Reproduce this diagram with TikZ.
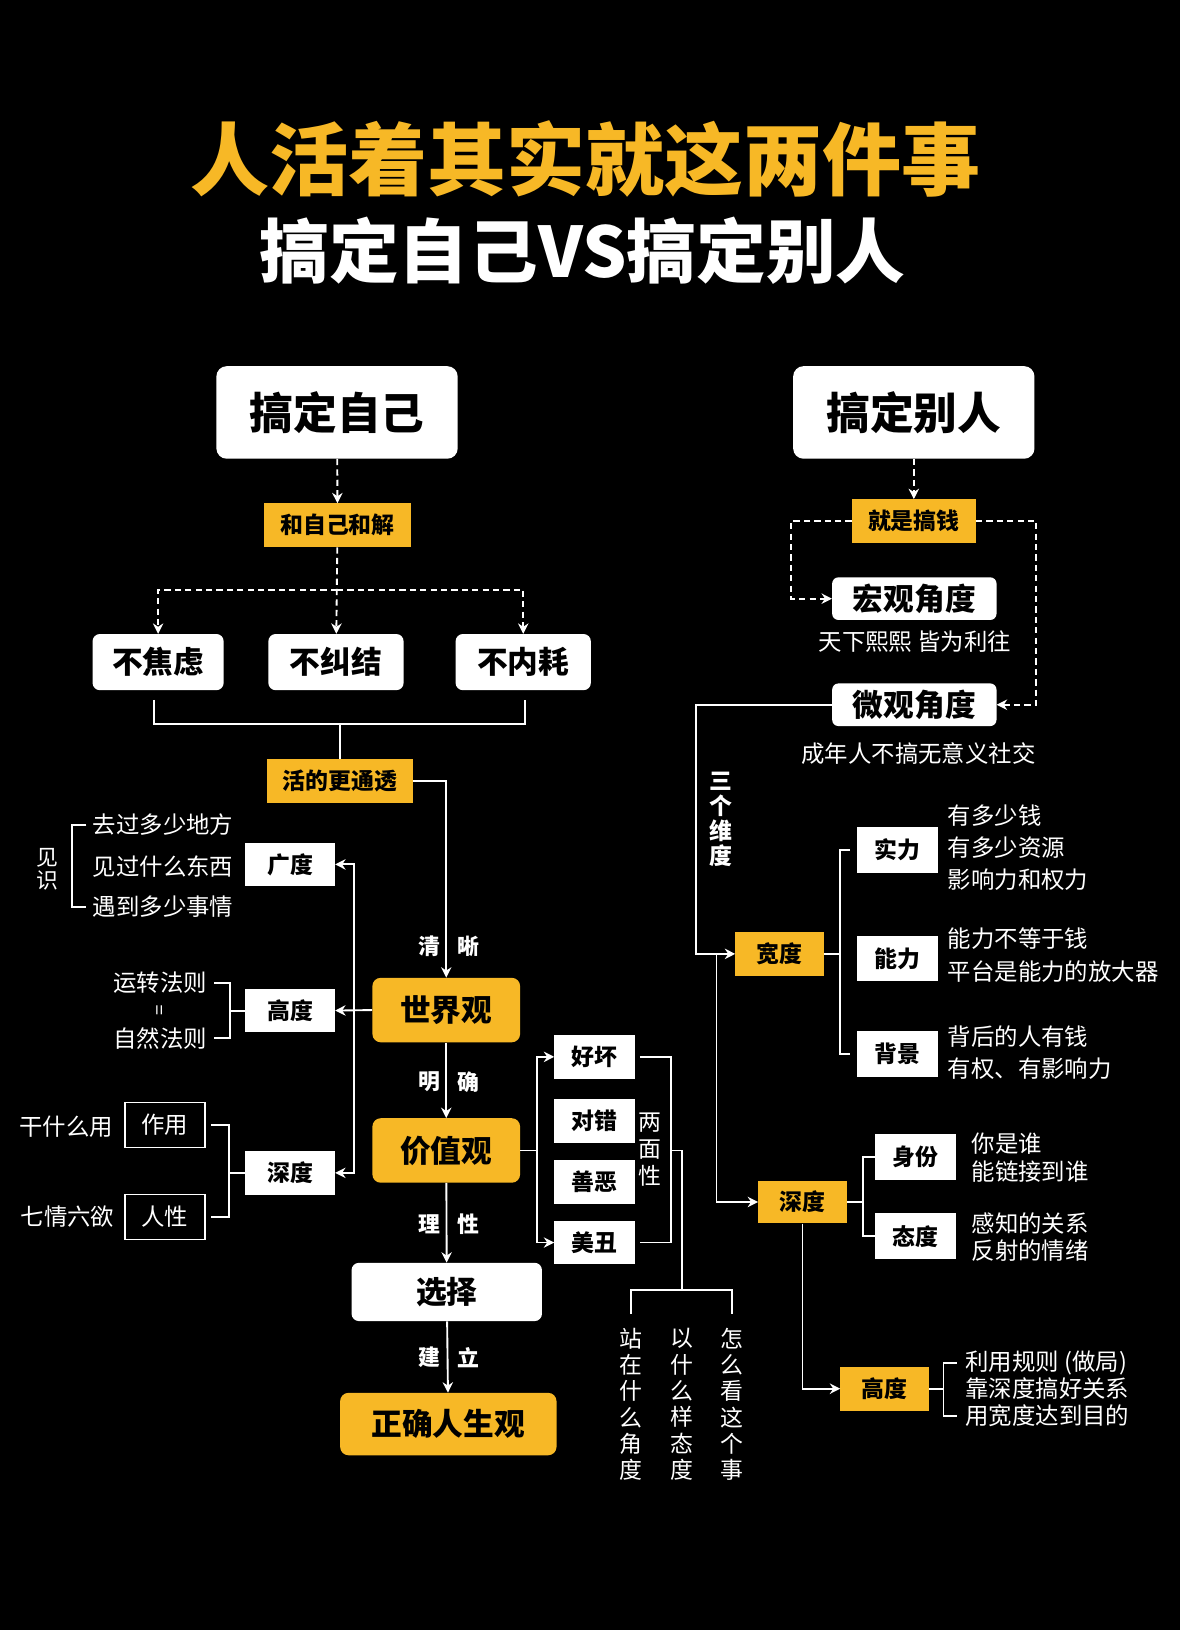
\documentclass[tikz,border=0pt]{standalone}
\usepackage{fontspec}
\setmainfont{Noto Sans CJK SC}
\usetikzlibrary{arrows.meta}
\definecolor{gold}{RGB}{247,184,38}
\tikzstyle{bigbox} = [rectangle, rounded corners=10pt, fill=white, text=black, inner sep=0pt, minimum width=232pt, minimum height=89pt, font=\fontsize{42}{46}\selectfont\bfseries]
\tikzstyle{midbox} = [rectangle, rounded corners=7pt, fill=white, text=black, inner sep=0pt, minimum height=54pt, font=\fontsize{29.5}{32}\selectfont\bfseries]
\tikzstyle{goldbox} = [rectangle, rounded corners=8pt, fill=gold, text=black, inner sep=0pt, minimum height=62pt, font=\fontsize{29.5}{32}\selectfont\bfseries]
\tikzstyle{tag} = [rectangle, fill=gold, text=black, inner sep=0pt, minimum width=85pt, minimum height=42pt, font=\fontsize{22}{24}\selectfont\bfseries]
\tikzstyle{cell} = [rectangle, fill=white, text=black, inner sep=0pt, minimum width=78pt, minimum height=43pt, font=\fontsize{22}{24}\selectfont\bfseries]
\tikzstyle{outbox} = [rectangle, draw=white, line width=1.5pt, text=white, inner sep=0pt, minimum width=77pt, minimum height=43pt, font=\fontsize{22.5}{24}\selectfont]
\tikzstyle{note} = [text=white, inner sep=0pt, font=\fontsize{22.5}{31}\selectfont]
\tikzstyle{vnote} = [note, align=center, font=\fontsize{22}{25.3}\selectfont]
\tikzstyle{lbl} = [text=white, inner sep=0pt, font=\fontsize{21}{24}\selectfont\bfseries]
\tikzstyle{line} = [draw=white, line width=1.8pt]
\tikzstyle{arrow} = [line, -{Stealth[length=10pt,width=10pt]}]
\tikzstyle{dashline} = [line, dash pattern=on 6pt off 4pt]
\tikzstyle{dasharrow} = [dashline, -{Stealth[length=10pt,width=10pt]}]

\begin{document}
\begin{tikzpicture}[x=1pt,y=-1pt]
		\fill [black] (0,0) rectangle (1134,1567);
		\node (titulo) [text=gold, font=\fontsize{76}{80}\selectfont\bfseries] at (563,153) {人活着其实就这两件事};
		\node (subtitulo) [text=white, font=\fontsize{67}{70}\selectfont\bfseries] at (560,241) {搞定自己VS搞定别人};
		% izquierda
		\node (ziji) [bigbox] at (324,396.5) {搞定自己};
		\node (hejie) [tag, minimum width=141pt] at (324.5,505) {和自己和解};
		\node (bujiaolv) [midbox, minimum width=126pt] at (152,636.5) {不焦虑};
		\node (bujiujie) [midbox, minimum width=130pt] at (323,636.5) {不纠结};
		\node (buneihao) [midbox, minimum width=130pt] at (503,636.5) {不内耗};
		\node (tongtou) [tag, minimum width=140pt] at (327,751) {活的更通透};
		\coordinate (fen) at (324,567);
		\draw [dasharrow] (ziji) -- (hejie);
		\draw [dasharrow] (hejie) -- (bujiujie);
		\draw [dasharrow] (fen) -| (bujiaolv.north);
		\draw [dasharrow] (fen) -| (buneihao.north);
		\draw [line] ([shift={(-4,9)}]bujiaolv.south) |- ([shift={(2,32)}]buneihao.south) -- ([shift={(2,9)}]buneihao.south);
		\draw [line] (tongtou.north) -- ++(0,-35);
		\node (shijie) [goldbox, minimum width=142pt] at (429,971) {世界观};
		\node (jiazhi) [goldbox, minimum width=142pt] at (429,1106) {价值观};
		\node (xuanze) [midbox, minimum width=183pt, minimum height=56pt] at (429.5,1242) {选择};
		\node (rensheng) [goldbox, minimum width=208pt, minimum height=60pt] at (431,1369) {正确人生观};
		\draw [arrow] (tongtou.east) -| (shijie.north);
		\draw [arrow] (shijie) -- (jiazhi);
		\draw [arrow] (jiazhi) -- (xuanze);
		\draw [arrow] (xuanze) -- (rensheng);
		\node (qing) [lbl] at (413,910) {清};
		\node (xi) [lbl] at (450,910) {晰};
		\node (ming) [lbl] at (413,1040) {明};
		\node (que) [lbl] at (450,1040) {确};
		\node (li) [lbl] at (413,1177) {理};
		\node (xing) [lbl] at (450,1177) {性};
		\node (jian) [lbl] at (413,1305) {建};
		\node (lii) [lbl] at (450,1305) {立};
		% tres grados
		\node (guangdu) [cell, minimum width=86pt, minimum height=42pt] at (279,831) {广度};
		\node (gaodu) [cell, minimum width=86pt, minimum height=42pt] at (279,971.5) {高度};
		\node (shendu) [cell, minimum width=86pt, minimum height=42pt] at (279,1127.5) {深度};
		\coordinate (fenL) at (340,971.5);
		\draw [arrow] (shijie.west) -- (gaodu.east);
		\draw [arrow] (fenL) |- (guangdu.east);
		\draw [arrow] (fenL) |- (shendu.east);
		\node (qudi) [note, anchor=west] at (89,793) {去过多少地方};
		\node (jianguo) [note, anchor=west] at (89,833) {见过什么东西};
		\node (yudao) [note, anchor=west] at (89,872) {遇到多少事情};
		\node (jianshi) [vnote, font=\fontsize{21}{22}\selectfont] at (46,836) {见\\识};
		\draw [line] ([xshift=-6pt]qudi.west) -| ([xshift=-20pt]yudao.west) -- ([xshift=-6pt]yudao.west);
		\node (yunzhuan) [note] at (154,945) {运转法则};
		\node (dengyu) [note, rotate=90, font=\fontsize{18}{18}\selectfont] at (155,971) {=};
		\node (ziran) [note] at (154,998) {自然法则};
		\draw [line] ([xshift=7pt]yunzhuan.east) -| ([xshift=22pt]ziran.east) -- ([xshift=7pt]ziran.east);
		\draw [line] (gaodu.west) -- ++(-16,0);
		\node (zuoyong) [outbox] at (158.5,1081.5) {作用};
		\node (renxing) [outbox] at (158.5,1170) {人性};
		\node (ganshenme) [note, anchor=east] at (109,1083) {干什么用};
		\node (qiqing) [note, anchor=east] at (110,1170) {七情六欲};
		\draw [line] ([xshift=5pt]zuoyong.east) -| ([xshift=22pt]renxing.east) -- ([xshift=5pt]renxing.east);
		\draw [line] (shendu.west) -- ++(-17,0);
		% dos caras
		\node (haohuai) [cell, minimum width=77pt, minimum height=42pt] at (571.5,1016) {好坏};
		\node (duicuo) [cell, minimum width=77pt, minimum height=42pt] at (571.5,1077.5) {对错};
		\node (shane) [cell, minimum width=77pt, minimum height=42pt] at (571.5,1136) {善恶};
		\node (meichou) [cell, minimum width=77pt, minimum height=42pt] at (571.5,1194.5) {美丑};
		\coordinate (fenR) at (516,1106);
		\draw [line] (jiazhi.east) -- (fenR);
		\draw [arrow] (fenR) |- (haohuai.west);
		\draw [arrow] (fenR) |- (meichou.west);
		\draw [line] ([xshift=5pt]haohuai.east) -| ([xshift=35pt]meichou.east) -- ([xshift=5pt]meichou.east);
		\node (liangmian) [vnote, font=\fontsize{22}{26}\selectfont] at (624.5,1105) {两\\面\\性};
		\node (zhanzai) [vnote] at (607,1350) {站\\在\\什\\么\\角\\度};
		\node (yiyang) [vnote] at (656,1350) {以\\什\\么\\样\\态\\度};
		\node (zenme) [vnote] at (704,1350) {怎\\么\\看\\这\\个\\事};
		\draw [line] ([xshift=35pt]haohuai.east |- jiazhi.east) -| ([yshift=36pt]yiyang.north);
		\draw [line] ([yshift=13pt]zhanzai.north) |- ([yshift=36pt]zenme.north) -- ([yshift=13pt]zenme.north);
		% derecha
		\node (bieren) [bigbox] at (878.5,396.5) {搞定别人};
		\node (gaoqian) [tag, minimum width=119pt] at (878.5,501) {就是搞钱};
		\node (hongguan) [midbox, rounded corners=6pt, minimum width=158pt, minimum height=41pt] at (879,575.5) {宏观角度};
		\node (xixi) [note] at (879.5,617) {天下熙熙 皆为利往};
		\node (weiguan) [midbox, rounded corners=6pt, minimum width=158pt, minimum height=41pt] at (879,677.5) {微观角度};
		\node (chengnian) [note] at (883,724) {成年人不搞无意义社交};
		\draw [dasharrow] (bieren) -- (gaoqian);
		\draw [dasharrow] (gaoqian.west) -- ++(-58,0) |- (hongguan.west);
		\draw [dasharrow] (gaoqian.east) -- ++(58,0) |- (weiguan.east);
		\node (weidu) [vnote, font=\fontsize{22}{24}\selectfont\bfseries] at (693,788) {三\\个\\维\\度};
		\node (kuandu) [tag] at (749.5,917) {宽度};
		\node (shenduR) [tag, minimum height=41pt] at (771.5,1155.5) {深度};
		\node (gaoduR) [tag] at (850.5,1335) {高度};
		\draw [arrow] (weiguan.west) -- ++(-131,0) |- (kuandu.west);
		\draw [arrow] ([xshift=-18pt]kuandu.west) |- (shenduR.west);
		\draw [arrow] (shenduR.south) |- (gaoduR.west);
		\node (shili) [cell, minimum height=44pt] at (863,817) {实力};
		\node (nengli) [cell, minimum height=44pt] at (863,921.5) {能力};
		\node (beijing) [cell, minimum height=44pt] at (863,1013) {背景};
		\draw [line] (kuandu.east) -- ++(16,0);
		\draw [line] ([xshift=-7pt]shili.west) -| ([xshift=-16pt]beijing.west) -- ([xshift=-7pt]beijing.west);
		\node (shilitxt) [note, anchor=west, align=left] at (911,815) {有多少钱\\有多少资源\\影响力和权力};
		\node (nenglitxt) [note, anchor=west, align=left, font=\fontsize{22.5}{32}\selectfont] at (911,918) {能力不等于钱\\平台是能力的放大器};
		\node (beijingtxt) [note, anchor=west, align=left, font=\fontsize{22.5}{30}\selectfont] at (911,1012) {背后的人有钱\\有权、有影响力};
		\node (shenfen) [cell, minimum height=44pt] at (880,1112) {身份};
		\node (taidu) [cell, minimum height=44pt] at (880,1188.5) {态度};
		\draw [line] (shenduR.east) -- ++(16,0);
		\draw [line] (shenfen.west) -| ([xshift=-11pt]taidu.west) -- (taidu.west);
		\node (shenfentxt) [note, anchor=west, align=left, font=\fontsize{22.5}{27}\selectfont] at (934,1112.5) {你是谁\\能链接到谁};
		\node (taidutxt) [note, anchor=west, align=left, font=\fontsize{22.5}{26}\selectfont] at (934,1189) {感知的关系\\反射的情绪};
		\node (liyong) [note, anchor=west] at (928,1310) {利用规则 (做局)};
		\node (kaoshen) [note, anchor=west] at (928,1335) {靠深度搞好关系};
		\node (yongkuan) [note, anchor=west] at (928,1361) {用宽度达到目的};
		\draw [line] (gaoduR.east) -- ++(14,0);
		\draw [line] ([xshift=-8pt]liyong.west) -| ([xshift=-21pt]yongkuan.west) -- ([xshift=-8pt]yongkuan.west);
	\end{tikzpicture}
\end{document}
